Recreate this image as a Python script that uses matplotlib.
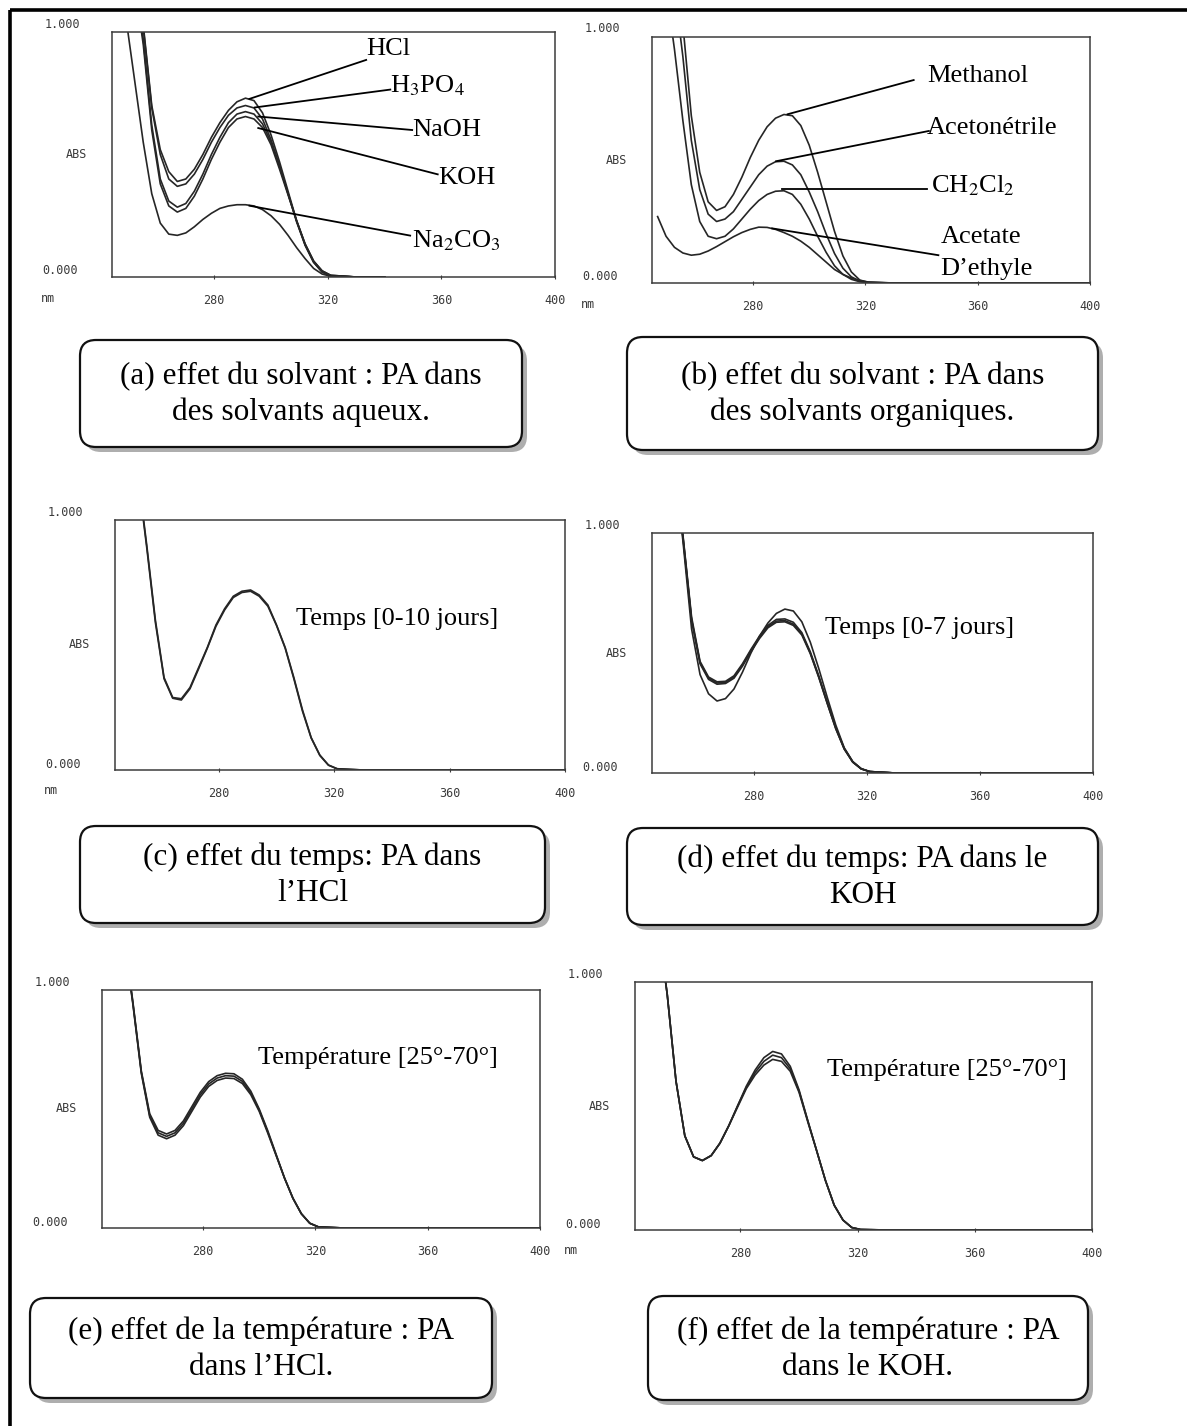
import matplotlib
matplotlib.use('Agg')
import matplotlib.pyplot as plt
from matplotlib.patches import FancyBboxPatch
from matplotlib.transforms import offset_copy

plt.rcParams['font.family'] = ['Liberation Serif', 'DejaVu Serif']
plt.rcParams['mathtext.fontset'] = 'stix'

W, H = 1187, 1426

# longueurs d'onde (nm) communes a toutes les courbes
WL = [246, 249, 252, 255, 258, 261, 264, 267, 270, 273, 276, 279, 282, 285, 288,
      291, 294, 297, 300, 303, 306, 309, 312, 315, 318, 321, 330, 340, 360, 380, 400]
X_TICKS = [280, 320, 360, 400]

# (a) solvants aqueux
HCL = [1.60, 1.45, 1.25, 1.03, 0.70, 0.52, 0.43, 0.39, 0.40, 0.44, 0.50, 0.57, 0.63, 0.68, 0.715,
       0.73, 0.72, 0.67, 0.58, 0.47, 0.35, 0.23, 0.13, 0.06, 0.02, 0.005, 0, 0, 0, 0, 0]
H3PO4 = [1.60, 1.45, 1.24, 1.02, 0.69, 0.50, 0.40, 0.37, 0.38, 0.42, 0.48, 0.55, 0.61, 0.66, 0.69,
         0.70, 0.69, 0.645, 0.56, 0.455, 0.34, 0.225, 0.13, 0.06, 0.02, 0.005, 0, 0, 0, 0, 0]
NAOH = [1.60, 1.40, 1.20, 0.97, 0.62, 0.40, 0.31, 0.285, 0.30, 0.35, 0.42, 0.50, 0.57, 0.63, 0.665,
        0.675, 0.665, 0.625, 0.55, 0.45, 0.34, 0.23, 0.135, 0.065, 0.025, 0.007, 0, 0, 0, 0, 0]
KOH = [1.60, 1.40, 1.19, 0.95, 0.60, 0.38, 0.29, 0.265, 0.28, 0.33, 0.40, 0.48, 0.55, 0.61, 0.645,
       0.655, 0.645, 0.61, 0.54, 0.44, 0.335, 0.23, 0.135, 0.065, 0.025, 0.007, 0, 0, 0, 0, 0]
NA2CO3 = [1.50, 1.05, 0.80, 0.55, 0.34, 0.22, 0.175, 0.17, 0.18, 0.205, 0.235, 0.26, 0.28, 0.29, 0.295,
          0.295, 0.29, 0.275, 0.25, 0.215, 0.17, 0.12, 0.075, 0.035, 0.012, 0.003, 0, 0, 0, 0, 0]

# (b) solvants organiques
METHANOL = [1.80, 1.60, 1.35, 1.05, 0.68, 0.45, 0.33, 0.295, 0.31, 0.36, 0.43, 0.51, 0.58, 0.635, 0.67,
            0.685, 0.68, 0.64, 0.56, 0.45, 0.33, 0.21, 0.11, 0.045, 0.012, 0.003, 0, 0, 0, 0, 0]
ACETONITRILE = [1.70, 1.45, 1.20, 0.92, 0.58, 0.38, 0.28, 0.25, 0.26, 0.29, 0.34, 0.39, 0.44, 0.475, 0.493,
                0.495, 0.48, 0.44, 0.37, 0.29, 0.20, 0.12, 0.06, 0.025, 0.008, 0.002, 0, 0, 0, 0, 0]
CH2CL2 = [1.50, 1.20, 0.95, 0.66, 0.40, 0.25, 0.19, 0.18, 0.19, 0.22, 0.26, 0.30, 0.335, 0.36, 0.373,
          0.375, 0.36, 0.32, 0.26, 0.19, 0.125, 0.07, 0.035, 0.015, 0.005, 0.001, 0, 0, 0, 0, 0]
ACETATE = [0.27, 0.19, 0.145, 0.122, 0.113, 0.117, 0.13, 0.148, 0.168, 0.188, 0.205, 0.218, 0.227, 0.226, 0.218,
           0.205, 0.19, 0.17, 0.145, 0.115, 0.085, 0.055, 0.035, 0.02, 0.01, 0.004, 0, 0, 0, 0, 0]

# (c) temps, HCl
HCL_J0 = [1.60, 1.40, 1.18, 0.90, 0.60, 0.37, 0.29, 0.285, 0.33, 0.41, 0.49, 0.58, 0.645, 0.695, 0.715,
          0.72, 0.70, 0.66, 0.58, 0.49, 0.37, 0.24, 0.13, 0.06, 0.02, 0.005, 0, 0, 0, 0, 0]
HCL_J10 = [1.60, 1.40, 1.17, 0.89, 0.59, 0.365, 0.287, 0.28, 0.325, 0.405, 0.487, 0.575, 0.64, 0.69, 0.71,
           0.715, 0.695, 0.655, 0.578, 0.487, 0.365, 0.235, 0.128, 0.058, 0.019, 0.005, 0, 0, 0, 0, 0]

# (d) temps, KOH
KOH_J0 = [1.70, 1.50, 1.28, 0.96, 0.60, 0.41, 0.33, 0.30, 0.31, 0.35, 0.42, 0.50, 0.57, 0.625, 0.665,
          0.683, 0.675, 0.63, 0.545, 0.435, 0.315, 0.20, 0.105, 0.048, 0.018, 0.006, 0, 0, 0, 0, 0]
KOH_J3 = [1.70, 1.50, 1.30, 0.98, 0.64, 0.46, 0.395, 0.375, 0.378, 0.40, 0.45, 0.51, 0.565, 0.61, 0.633,
          0.635, 0.62, 0.58, 0.50, 0.40, 0.29, 0.185, 0.10, 0.045, 0.017, 0.006, 0, 0, 0, 0, 0]
KOH_J5 = [1.70, 1.50, 1.30, 0.985, 0.65, 0.465, 0.40, 0.38, 0.382, 0.405, 0.455, 0.515, 0.57, 0.615, 0.64,
          0.642, 0.628, 0.585, 0.505, 0.405, 0.295, 0.19, 0.103, 0.047, 0.018, 0.006, 0, 0, 0, 0, 0]
KOH_J7 = [1.70, 1.50, 1.29, 0.975, 0.635, 0.455, 0.39, 0.37, 0.373, 0.395, 0.445, 0.505, 0.56, 0.605, 0.628,
          0.63, 0.615, 0.575, 0.497, 0.398, 0.29, 0.185, 0.10, 0.046, 0.017, 0.006, 0, 0, 0, 0, 0]

# (e) temperature, HCl
HCL_25 = [1.70, 1.45, 1.22, 0.95, 0.66, 0.48, 0.41, 0.395, 0.41, 0.45, 0.51, 0.57, 0.615, 0.64, 0.65,
          0.648, 0.625, 0.575, 0.50, 0.41, 0.31, 0.21, 0.125, 0.06, 0.02, 0.005, 0, 0, 0, 0, 0]
HCL_50 = [1.70, 1.45, 1.21, 0.945, 0.655, 0.472, 0.40, 0.385, 0.40, 0.44, 0.50, 0.56, 0.605, 0.63, 0.64,
          0.638, 0.616, 0.567, 0.495, 0.405, 0.307, 0.21, 0.125, 0.06, 0.02, 0.005, 0, 0, 0, 0, 0]
HCL_70 = [1.70, 1.45, 1.20, 0.94, 0.65, 0.465, 0.39, 0.375, 0.39, 0.43, 0.49, 0.55, 0.595, 0.62, 0.63,
          0.628, 0.607, 0.56, 0.49, 0.40, 0.305, 0.21, 0.125, 0.06, 0.02, 0.005, 0, 0, 0, 0, 0]

# (f) temperature, KOH
KOH_25 = [1.70, 1.45, 1.22, 0.95, 0.60, 0.38, 0.295, 0.28, 0.30, 0.35, 0.42, 0.50, 0.58, 0.645, 0.695,
          0.72, 0.71, 0.66, 0.565, 0.44, 0.32, 0.20, 0.10, 0.04, 0.01, 0.002, 0, 0, 0, 0, 0]
KOH_50 = [1.70, 1.45, 1.22, 0.95, 0.60, 0.38, 0.295, 0.28, 0.30, 0.35, 0.42, 0.50, 0.575, 0.635, 0.68,
          0.705, 0.695, 0.65, 0.56, 0.44, 0.32, 0.20, 0.10, 0.04, 0.01, 0.002, 0, 0, 0, 0, 0]
KOH_70 = [1.70, 1.45, 1.22, 0.95, 0.60, 0.38, 0.295, 0.28, 0.30, 0.35, 0.42, 0.495, 0.57, 0.625, 0.665,
          0.688, 0.68, 0.64, 0.555, 0.435, 0.32, 0.20, 0.10, 0.04, 0.01, 0.002, 0, 0, 0, 0, 0]

CAPTIONS = [
    '(a) effet du solvant : PA dans\ndes solvants aqueux.',
    '(b) effet du solvant : PA dans\ndes solvants organiques.',
    '(c) effet du temps: PA dans\nl\u2019HCl',
    '(d) effet du temps: PA dans le\nKOH',
    '(e) effet de la température : PA\ndans l\u2019HCl.',
    '(f) effet de la température : PA\ndans le KOH.',
]

CURVE_COLOR = '#262626'
LABEL_SIZE = 19

fig = plt.figure(figsize=(11.87, 14.26), dpi=100)

# fond : cadre + encadres des legendes
bg = fig.add_axes([0, 0, 1, 1])
bg.set_xlim(0, W)
bg.set_ylim(H, 0)
bg.axis('off')
bg.plot([10, W], [10, 10], color='black', lw=2.6, solid_capstyle='butt')
bg.plot([10, 10], [10, H], color='black', lw=2.6, solid_capstyle='butt')


def caption(x0, x1, y0, y1, text):
    style = 'round,pad=0,rounding_size=16'
    bg.add_patch(FancyBboxPatch((x0 + 5, y0 + 5), x1 - x0, y1 - y0, boxstyle=style,
                                fc='#8c8c8c', ec='none', alpha=0.7))
    bg.add_patch(FancyBboxPatch((x0, y0), x1 - x0, y1 - y0, boxstyle=style,
                                fc='white', ec='#111111', lw=1.6))
    bg.text((x0 + x1) / 2, (y0 + y1) / 2 + 1, text, ha='center', va='center',
            fontsize=22.5, linespacing=1.3)


caption(80, 522, 340, 447, CAPTIONS[0])
caption(627, 1098, 337, 450, CAPTIONS[1])
caption(80, 545, 826, 923, CAPTIONS[2])
caption(627, 1098, 828, 925, CAPTIONS[3])
caption(30, 492, 1298, 1398, CAPTIONS[4])
caption(648, 1088, 1296, 1400, CAPTIONS[5])


def panel(left, right, top, bottom, show_nm=True):
    ax = fig.add_axes([left / W, 1 - bottom / H, (right - left) / W, (bottom - top) / H])
    ax.set_facecolor('none')
    ax.set_xlim(244, 400)
    ax.set_ylim(0, 1)
    for s in ax.spines.values():
        s.set_color('#3c3c3c')
        s.set_linewidth(1.1)
    ax.set_xticks(X_TICKS)
    ax.set_xticklabels([str(t) for t in X_TICKS], family='DejaVu Sans Mono', fontsize=8.5, color='#3a3a3a')
    ax.tick_params(axis='x', length=3, direction='inout', pad=11, color='#3c3c3c')
    ax.set_yticks([])
    mono = dict(family='DejaVu Sans Mono', fontsize=8.5, color='#3a3a3a', ha='center', va='center')
    ax.text(0, 1, '1.000', transform=offset_copy(ax.transAxes, fig=fig, x=-50, y=8, units='dots'), **mono)
    ax.text(0, 0, '0.000', transform=offset_copy(ax.transAxes, fig=fig, x=-52, y=6, units='dots'), **mono)
    ax.text(0, 0.5, 'ABS', transform=offset_copy(ax.transAxes, fig=fig, x=-36, y=0, units='dots'), **mono)
    if show_nm:
        ax.text(0, 0, 'nm', transform=offset_copy(ax.transAxes, fig=fig, x=-64, y=-21, units='dots'), **mono)
    return ax


def curves(ax, series, stop=None):
    n = len(WL) if stop is None else stop
    for y in series:
        ax.plot(WL[:n], y[:n], color=CURVE_COLOR, lw=1.2)


def leader(ax, start, end):
    ax.plot([start[0], end[0]], [start[1], end[1]], color='black', lw=1.3)


# (a)
ax = panel(112, 555, 32, 277)
curves(ax, [HCL, H3PO4, NAOH, KOH, NA2CO3], stop=28)
leader(ax, (292.4, 0.727), (333.5, 0.886))
leader(ax, (294.3, 0.692), (342.0, 0.765))
leader(ax, (295.5, 0.655), (349.7, 0.600))
leader(ax, (295.5, 0.608), (358.7, 0.419))
leader(ax, (292.4, 0.291), (349.0, 0.169))
ax.text(333.5, 0.930, 'HCl', fontsize=LABEL_SIZE, va='center')
ax.text(342.0, 0.780, 'H$_3$PO$_4$', fontsize=LABEL_SIZE, va='center')
ax.text(349.7, 0.600, 'NaOH', fontsize=LABEL_SIZE, va='center')
ax.text(359.0, 0.405, 'KOH', fontsize=LABEL_SIZE, va='center')
ax.text(349.7, 0.150, 'Na$_2$CO$_3$', fontsize=LABEL_SIZE, va='center')

# (b)
ax = panel(652, 1090, 37, 283)
curves(ax, [METHANOL, ACETONITRILE, CH2CL2, ACETATE])
leader(ax, (292.3, 0.686), (337.2, 0.825))
leader(ax, (288.2, 0.495), (342.6, 0.618))
leader(ax, (290.2, 0.382), (341.9, 0.382))
leader(ax, (286.8, 0.222), (346.0, 0.113))
ax.text(342.0, 0.840, 'Methanol', fontsize=LABEL_SIZE, va='center')
ax.text(342.0, 0.630, 'Acetonétrile', fontsize=LABEL_SIZE, va='center')
ax.text(343.3, 0.395, 'CH$_2$Cl$_2$', fontsize=LABEL_SIZE, va='center')
ax.text(346.7, 0.185, 'Acetate', fontsize=LABEL_SIZE, va='center')
ax.text(346.7, 0.058, 'D\u2019ethyle', fontsize=LABEL_SIZE, va='center')

# (c)
ax = panel(115, 565, 520, 770)
curves(ax, [HCL_J0, HCL_J10])
ax.text(306.6, 0.605, 'Temps [0-10 jours]', fontsize=LABEL_SIZE, va='center')

# (d)
ax = panel(652, 1093, 533, 773, show_nm=False)
curves(ax, [KOH_J0, KOH_J3, KOH_J5, KOH_J7])
ax.text(305.2, 0.605, 'Temps [0-7 jours]', fontsize=LABEL_SIZE, va='center')

# (e)
ax = panel(102, 540, 990, 1228, show_nm=False)
curves(ax, [HCL_25, HCL_50, HCL_70])
ax.text(299.6, 0.714, 'Température [25°-70°]', fontsize=LABEL_SIZE, va='center')

# (f)
ax = panel(635, 1092, 982, 1230)
curves(ax, [KOH_25, KOH_50, KOH_70])
ax.text(309.5, 0.646, 'Température [25°-70°]', fontsize=LABEL_SIZE, va='center')

fig.savefig('out.png', dpi=100, facecolor='white')
